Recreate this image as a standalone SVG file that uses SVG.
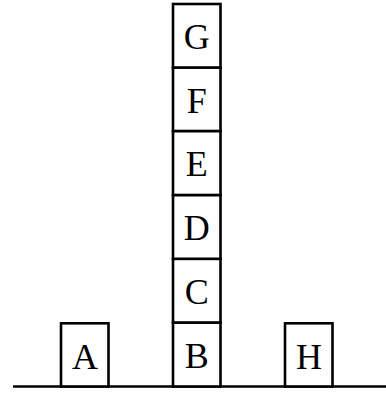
<svg xmlns="http://www.w3.org/2000/svg" width="386" height="393" viewBox="0 0 386 393">
<style>
.b{fill:#fff;stroke:#000;stroke-width:2.6}
.t{font-family:"Liberation Serif","Times New Roman",serif;font-size:36px;text-anchor:middle;fill:#000}
</style>
<rect width="386" height="393" fill="#fff"/>
<g id="ground"><line x1="13" y1="386.5" x2="386" y2="386.5" stroke="#000" stroke-width="2.6"/></g>
<g id="A"><rect class="b" x="61" y="323.3" width="47.5" height="63.2"/><text class="t" x="85" y="368.5">A</text></g>
<g id="H"><rect class="b" x="285" y="323.3" width="47.5" height="63.2"/><text class="t" x="309" y="368.5">H</text></g>
<g id="B"><rect class="b" x="173" y="322.5" width="47.5" height="64"/><text class="t" x="196.7" y="367.5">B</text></g>
<g id="C"><rect class="b" x="173" y="258.8" width="47.5" height="63.7"/><text class="t" x="196.7" y="303.5">C</text></g>
<g id="D"><rect class="b" x="173" y="195" width="47.5" height="63.8"/><text class="t" x="196.7" y="240">D</text></g>
<g id="E"><rect class="b" x="173" y="131" width="47.5" height="64"/><text class="t" x="196.7" y="176">E</text></g>
<g id="F"><rect class="b" x="173" y="67.5" width="47.5" height="63.5"/><text class="t" x="196.7" y="112.5">F</text></g>
<g id="G"><rect class="b" x="173" y="4" width="47.5" height="63.5"/><text class="t" x="196.7" y="49">G</text></g>
</svg>
